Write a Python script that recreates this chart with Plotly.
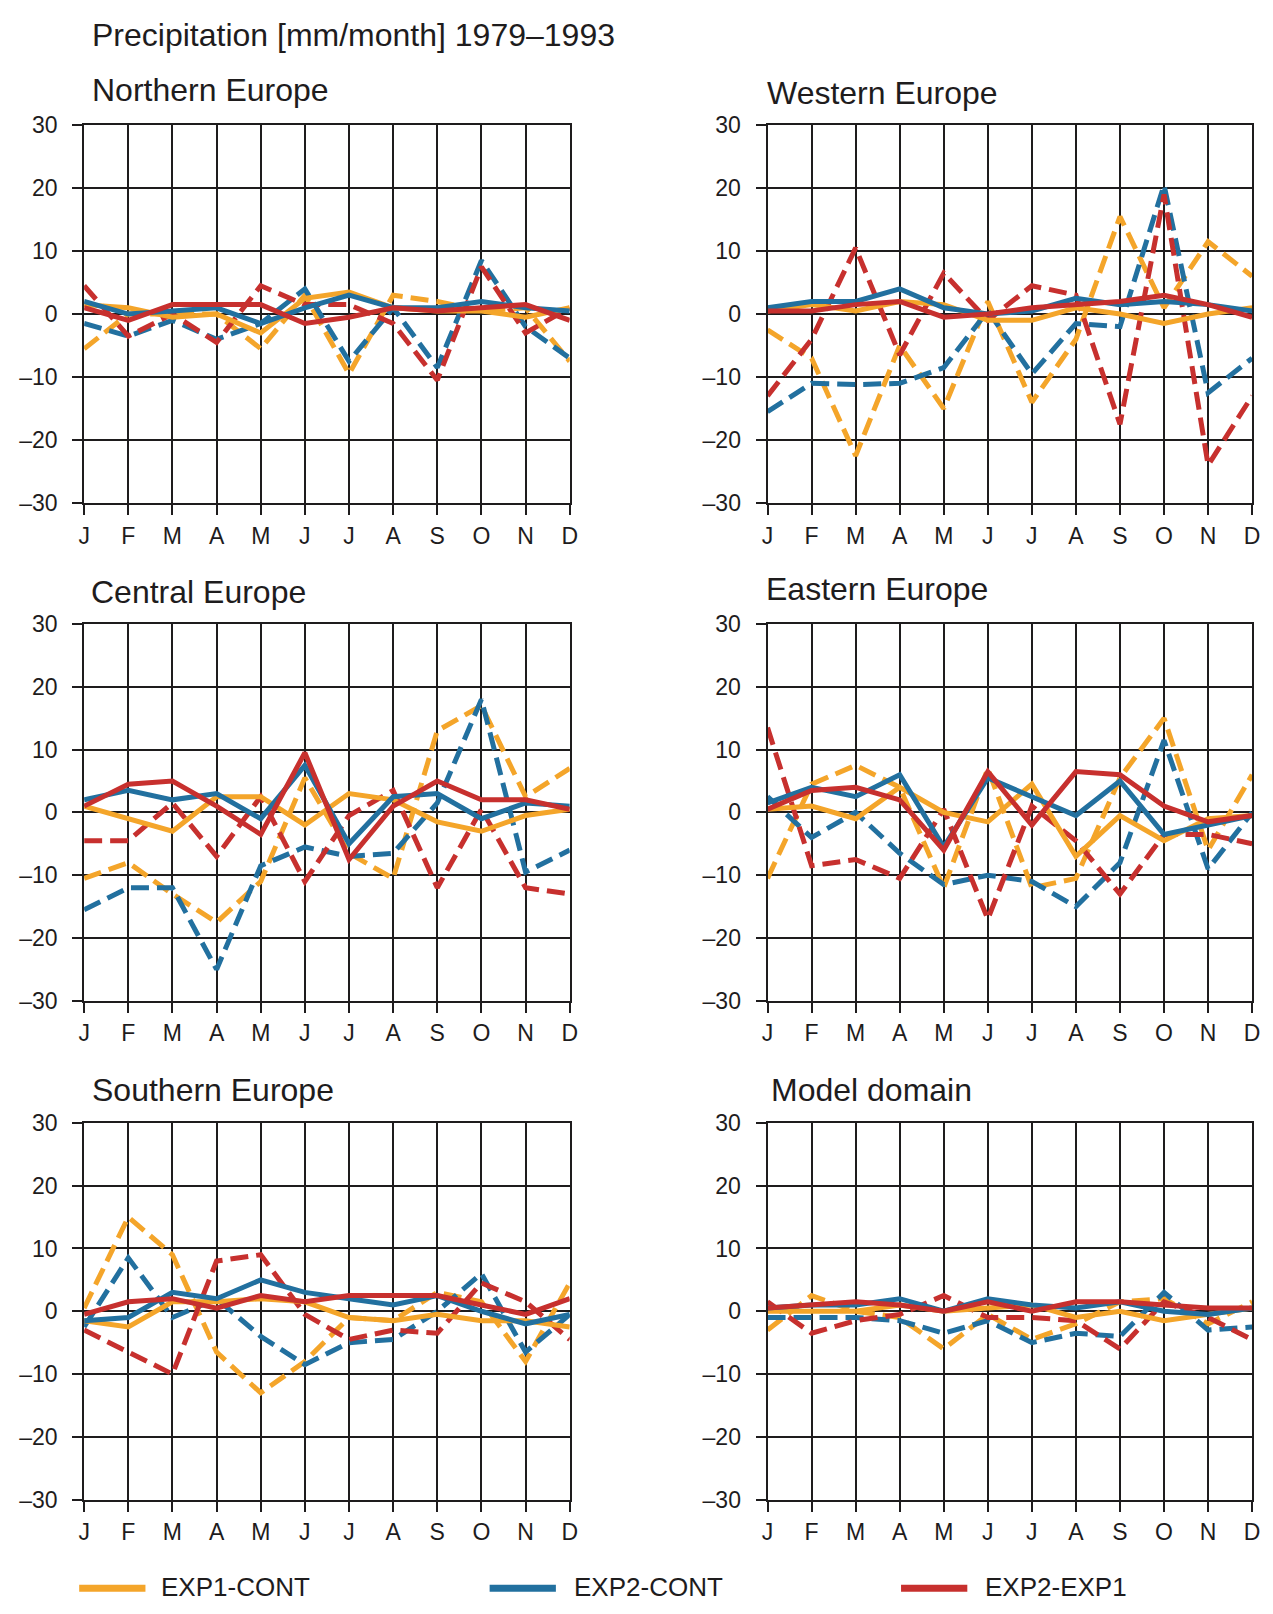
import plotly.graph_objects as go

W, H = 1273, 1614

months = ["J", "F", "M", "A", "M", "J", "J", "A", "S", "O", "N", "D"]
y_ticks = [-30, -20, -10, 0, 10, 20, 30]
y_tick_labels = ["–30", "–20", "–10", "0", "10", "20", "30"]
series_names = ["EXP1-CONT", "EXP2-CONT", "EXP2-EXP1"]
colors = ["#F4A52A", "#22709F", "#C7302E"]

# ---- Northern Europe ----
north_exp1_solid = [1.5, 1, -0.5, 0, -3, 2.5, 3.5, 1, 0.5, 0.5, -0.5, 1]
north_exp1_dashed = [-5.5, 0, 0, 0, -5.5, 3, -9.5, 3, 2, 0.5, 1, -7.5]
north_exp2_solid = [2, 0, 0.5, 1, -1.5, 1, 3, 1, 1, 2, 1, 0.5]
north_exp2_dashed = [-1.5, -3.5, -1, -4, -1.5, 4, -7.5, 1, -8.5, 8.5, -2, -7]
north_diff_solid = [1, -1, 1.5, 1.5, 1.5, -1.5, -0.5, 1, 0.5, 1, 1.5, -1]
north_diff_dashed = [4.5, -3.5, 0, -4.5, 4.5, 1.5, 1.5, -1.5, -10.5, 7.5, -3, 1]

# ---- Western Europe ----
west_exp1_solid = [0.5, 1.5, 0.5, 2, 1.5, -1, -1, 1, 0, -1.5, 0, 1]
west_exp1_dashed = [-2.5, -7, -22.5, -5, -15, 2, -14, -4, 15.5, 1, 11.5, 6]
west_exp2_solid = [1, 2, 2, 4, 1, 0, 0.5, 2.5, 1.5, 2, 1.5, 0.5]
west_exp2_dashed = [-15.5, -11, -11.2, -11, -8.5, 0.5, -9.5, -1.5, -2, 20.5, -12.5, -7]
west_diff_solid = [0.5, 0.5, 1.5, 2, -0.5, 0, 1, 1.5, 2, 3, 1.5, -0.5]
west_diff_dashed = [-13, -4, 10.5, -6.5, 6.5, -1, 4.5, 3, -17.5, 19, -24, -13]

# ---- Central Europe ----
central_exp1_solid = [1, -1, -3, 2.5, 2.5, -2, 3, 2, -1.5, -3, -0.5, 0.5]
central_exp1_dashed = [-10.5, -8, -13, -17.5, -11, 5.5, -6.5, -10.5, 13, 17, 2.5, 7]
central_exp2_solid = [2, 3.5, 2, 3, -1, 7.5, -5, 2.5, 3, -1, 1.5, 1]
central_exp2_dashed = [-15.5, -12, -12, -25, -8.5, -5.5, -7, -6.5, 1.5, 18, -9.5, -6]
central_diff_solid = [1, 4.5, 5, 1, -3.5, 9.5, -7.5, 1, 5, 2, 2, 0.5]
central_diff_dashed = [-4.5, -4.5, 1.5, -7, 2.5, -11, -0.5, 3.5, -12, 0.5, -12, -13]

# ---- Eastern Europe ----
east_exp1_solid = [0.5, 1, -1, 4, 0, -1.5, 4.5, -7, -0.5, -4.5, -1, -0.5]
east_exp1_dashed = [-10.5, 4.5, 7.5, 4, -12, 7, -12, -10.5, 5.5, 15, -6, 6]
east_exp2_solid = [1.5, 4, 2.5, 6, -5.5, 5.5, 2.5, -0.5, 5, -3.5, -2, -0.5]
east_exp2_dashed = [2.5, -4, 0, -6.5, -11.5, -10, -11, -15, -8, 11.5, -9, 0]
east_diff_solid = [0.5, 3.5, 4, 2, -6, 6.5, -2, 6.5, 6, 1, -1.5, -0.5]
east_diff_dashed = [13.5, -8.5, -7.5, -10.5, 0.5, -17, 1, -4.5, -13, -3.5, -3.5, -5]

# ---- Southern Europe ----
south_exp1_solid = [-1.5, -2.5, 1.5, 1.5, 2, 1.5, -1, -1.5, -0.5, -1.5, -1.5, -2.5]
south_exp1_dashed = [0.5, 15, 9, -6.5, -13, -8, -1, -1.5, 3, 1.5, -8, 4.5]
south_exp2_solid = [-1.5, -1, 3, 2, 5, 3, 2, 1, 2.5, 0, -2, -0.5]
south_exp2_dashed = [-2.5, 8.5, -1, 2, -4, -8.5, -5, -4.5, 0, 6, -6.5, -0.5]
south_diff_solid = [-0.5, 1.5, 2, 0.5, 2.5, 1.5, 2.5, 2.5, 2.5, 1, -0.5, 2]
south_diff_dashed = [-3, -6.5, -10, 8, 9, -0.5, -4.5, -3, -3.5, 4.5, 1.5, -4.5]

# ---- Model domain ----
model_exp1_solid = [0, 0, 0, 1, 0, 0.5, 1, -1, 0, -1.5, -0.5, 0.5]
model_exp1_dashed = [-3, 2.5, 0, -1, -6, -0.5, -4.5, -2, 1.5, 2, -2, 1.5]
model_exp2_solid = [0.5, 1, 1, 2, 0, 2, 1, 0.5, 1.5, 0, -0.5, 0.5]
model_exp2_dashed = [-1, -1, -1, -1.5, -3.5, -1.5, -5, -3.5, -4, 3, -3, -2.5]
model_diff_solid = [0.5, 1, 1.5, 1, 0, 1.5, 0, 1.5, 1.5, 1, 0.5, 0.5]
model_diff_dashed = [1.5, -3.5, -1.5, -0.5, 2.5, -1, -1, -1.5, -6, 1.5, -1, -4.5]

panels = [
    ("Northern Europe", 0, 0, (85, 78),
     [north_exp1_solid, north_exp2_solid, north_diff_solid],
     [north_exp1_dashed, north_exp2_dashed, north_diff_dashed]),
    ("Western Europe", 1, 0, (767, 81),
     [west_exp1_solid, west_exp2_solid, west_diff_solid],
     [west_exp1_dashed, west_exp2_dashed, west_diff_dashed]),
    ("Central Europe", 0, 1, (84, 588),
     [central_exp1_solid, central_exp2_solid, central_diff_solid],
     [central_exp1_dashed, central_exp2_dashed, central_diff_dashed]),
    ("Eastern Europe", 1, 1, (766, 585),
     [east_exp1_solid, east_exp2_solid, east_diff_solid],
     [east_exp1_dashed, east_exp2_dashed, east_diff_dashed]),
    ("Southern Europe", 0, 2, (85, 1095),
     [south_exp1_solid, south_exp2_solid, south_diff_solid],
     [south_exp1_dashed, south_exp2_dashed, south_diff_dashed]),
    ("Model domain", 1, 2, (771, 1095),
     [model_exp1_solid, model_exp2_solid, model_diff_solid],
     [model_exp1_dashed, model_exp2_dashed, model_diff_dashed]),
]

col_x = [(79, 570), (770, 1260)]
row_y = [(114, 498), (621, 1004), (1128, 1511)]

FONT = "Liberation Sans, Arial, Helvetica, sans-serif"
INK = "#1e1c1d"
x_idx = list(range(12))

fig = go.Figure()
layout = {}
annotations = []
shapes = []

for i, (title, c, r, tpos, solids, dashes) in enumerate(panels):
    n = i + 1
    xa = "x" if n == 1 else f"x{n}"
    ya = "y" if n == 1 else f"y{n}"
    x0, x1 = col_x[c]
    y0, y1 = row_y[r]
    axis_common = dict(
        showgrid=True, gridcolor=INK, gridwidth=2,
        showline=True, linecolor=INK, linewidth=2, mirror=True,
        ticks="outside", ticklen=10, tickwidth=2, tickcolor=INK,
        zeroline=False, fixedrange=True,
        tickfont=dict(family=FONT, size=23, color=INK),
    )
    layout["xaxis" if n == 1 else f"xaxis{n}"] = dict(
        domain=[x0 / W, x1 / W], range=[0, 11], anchor=ya,
        tickmode="array", tickvals=x_idx, ticktext=months,
        ticklabelstandoff=1, **axis_common)
    layout["yaxis" if n == 1 else f"yaxis{n}"] = dict(
        domain=[1 - y1 / H, 1 - y0 / H], range=[-30, 30], anchor=xa,
        tickmode="array", tickvals=y_ticks, ticktext=y_tick_labels,
        ticklabelstandoff=10, **axis_common)
    for vals, col, name in zip(dashes, colors, series_names):
        fig.add_trace(go.Scatter(
            x=x_idx, y=vals, mode="lines", xaxis=xa, yaxis=ya,
            line=dict(color=col, width=5, dash="18px,8px"),
            name=name, showlegend=False))
    for vals, col, name in zip(solids, colors, series_names):
        fig.add_trace(go.Scatter(
            x=x_idx, y=vals, mode="lines", xaxis=xa, yaxis=ya,
            line=dict(color=col, width=5),
            name=name, showlegend=False))
    annotations.append(dict(
        text=title, x=tpos[0] / W, y=1 - tpos[1] / H, xref="paper", yref="paper",
        xanchor="left", yanchor="middle", showarrow=False,
        font=dict(family=FONT, size=32, color=INK)))

annotations.append(dict(
    text="Precipitation [mm/month] 1979–1993", x=85 / W, y=1 - 22 / H,
    xref="paper", yref="paper", xanchor="left", yanchor="middle",
    showarrow=False, font=dict(family=FONT, size=32, color=INK)))

# legend
legend_x = [(74, 141, 155), (489, 556, 572), (905, 972, 988)]
legend_y = 1601
for (lx0, lx1, tx), col, name in zip(legend_x, colors, series_names):
    shapes.append(dict(type="line", xref="paper", yref="paper",
                       x0=lx0 / W, x1=lx1 / W, y0=1 - legend_y / H, y1=1 - legend_y / H,
                       line=dict(color=col, width=7)))
    annotations.append(dict(
        text=name, x=tx / W, y=1 - (legend_y - 1) / H, xref="paper", yref="paper",
        xanchor="left", yanchor="middle", showarrow=False,
        font=dict(family=FONT, size=26, color=INK)))

fig.update_layout(
    width=W, height=H, margin=dict(l=0, r=0, t=0, b=0),
    paper_bgcolor="white", plot_bgcolor="white",
    showlegend=False, annotations=annotations, shapes=shapes,
    **layout)

fig.write_html(
    "out.html",
    config={"displayModeBar": False},
    post_script="document.body.style.margin='0';document.body.style.overflow='hidden';",
)
